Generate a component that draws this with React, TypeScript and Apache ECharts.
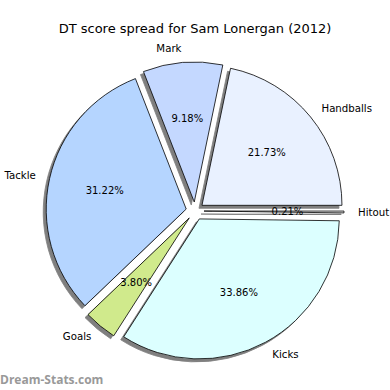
import React, { useEffect, useRef } from "react";
import * as echarts from "echarts";

const categories = ["Handballs", "Mark", "Tackle", "Goals", "Kicks", "Hitout"];
const values = [21.73, 9.18, 31.22, 3.8, 33.86, 0.21];
const colors = ["#e9f1ff", "#c4d8ff", "#b5d5ff", "#d0ea8c", "#dcffff", "#eeeeee"];
const titleText = "DT score spread for Sam Lonergan (2012)";
const watermark = "Dream-Stats.com";

const R = 140;
const CX = 195;
const CY = 211;
const EXPLODE = 9;

export default function App() {
  const ref = useRef<HTMLDivElement>(null);
  useEffect(() => {
    if (!ref.current) return;
    const chart = echarts.init(ref.current, null, { renderer: "svg" });
    const font = "DejaVu Sans";
    const mainData = categories.map((name, i) => ({
      name,
      value: values[i],
      selected: true,
      itemStyle: { color: colors[i] },
    }));
    const pctData = categories.map((name, i) => ({
      name,
      value: values[i],
      selected: true,
    }));
    chart.setOption({
      animation: false,
      title: {
        text: titleText,
        left: "center",
        top: 17,
        textStyle: { fontFamily: font, fontSize: 13, fontWeight: "normal", color: "#000" },
      },
      graphic: [
        {
          type: "text",
          left: 0,
          top: 373,
          style: {
            text: watermark,
            fontFamily: "Open Sans",
            fontSize: 12,
            fontWeight: "bold",
            fill: "#999999",
          },
        },
      ],
      series: [
        {
          type: "pie",
          center: [CX, CY],
          radius: [0, R],
          startAngle: 0,
          clockwise: false,
          avoidLabelOverlap: false,
          selectedMode: "multiple",
          selectedOffset: EXPLODE,
          minShowLabelAngle: 0,
          itemStyle: {
            borderColor: "#000",
            borderWidth: 0.8,
            shadowBlur: 0,
            shadowOffsetX: -3,
            shadowOffsetY: 3,
            shadowColor: "rgba(0,0,0,0.5)",
          },
          label: {
            show: true,
            position: "outside",
            formatter: "{b}",
            fontFamily: font,
            fontSize: 10.2,
            color: "#000",
            distanceToLabelLine: 0,
          },
          labelLine: { show: false, length: 0.1 * R, length2: 0 },
          emphasis: { disabled: true },
          select: {
            itemStyle: { borderColor: "#000", borderWidth: 0.8 },
            label: { fontWeight: "normal", color: "#000" },
          },
          data: mainData,
        },
        {
          type: "pie",
          center: [CX, CY],
          radius: [0, 1.15 * R],
          startAngle: 0,
          clockwise: false,
          avoidLabelOverlap: false,
          selectedMode: "multiple",
          selectedOffset: EXPLODE,
          minShowLabelAngle: 0,
          silent: true,
          itemStyle: { color: "rgba(0,0,0,0)", borderWidth: 0 },
          label: {
            show: true,
            position: "inside",
            formatter: (p: any) => p.value.toFixed(2) + "%",
            fontFamily: font,
            fontSize: 10,
            color: "#000",
          },
          labelLine: { show: false },
          emphasis: { disabled: true },
          select: {
            itemStyle: { color: "rgba(0,0,0,0)", borderWidth: 0 },
            label: { fontWeight: "normal", color: "#000" },
          },
          data: pctData,
        },
      ],
    });
    return () => chart.dispose();
  }, []);
  return (
    <div
      ref={ref}
      style={{ position: "fixed", left: 0, top: 0, width: 390, height: 390, background: "#fff" }}
    />
  );
}
